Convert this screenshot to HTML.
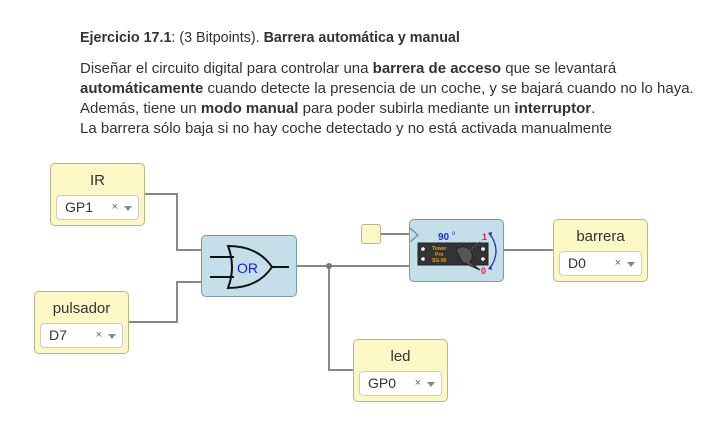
<!DOCTYPE html>
<html><head><meta charset="utf-8"><style>
body{margin:0;width:703px;height:440px;background:#fff;position:relative;overflow:hidden;font-family:"Liberation Sans",Arial,sans-serif;color:#333}
.t{position:absolute;left:80px;font-size:15px;white-space:nowrap;letter-spacing:0}
.box{position:absolute;background:#fbf8c6;border:1px solid #b9b58a;border-radius:5px;box-sizing:border-box;width:95px;height:63px}
.box .lbl{position:absolute;left:0;right:0;top:8px;text-align:center;font-size:15px;color:#333}
.sel{position:absolute;left:5px;right:5px;top:31px;height:25px;background:#fff;border:1px solid #ccc;border-radius:4px;box-sizing:border-box;font-size:14px;line-height:23px;padding-left:8px;color:#333}
.sel .x{position:absolute;right:20px;top:0;font-size:11px;color:#666}
.sel .a{position:absolute;right:6px;top:10px;width:0;height:0;border-left:4px solid transparent;border-right:4px solid transparent;border-top:5px solid #888}
.blue{position:absolute;background:#c4dfea;border:1px solid #7a9aab;border-radius:5px;box-sizing:border-box}
</style></head><body>
<div class="t" style="top:30px;font-size:14.3px"><b>Ejercicio 17.1</b>: (3 Bitpoints). <b>Barrera automática y manual</b></div>
<div class="t" style="top:60px">Diseñar el circuito digital para controlar una <b>barrera de acceso</b> que se levantará</div>
<div class="t" style="top:80px"><b>automáticamente</b> cuando detecte la presencia de un coche, y se bajará cuando no lo haya.</div>
<div class="t" style="top:100px">Además, tiene un <b>modo manual</b> para poder subirla mediante un <b>interruptor</b>.</div>
<div class="t" style="top:120px">La barrera sólo baja si no hay coche detectado y no está activada manualmente</div>

<svg style="position:absolute;left:0;top:0" width="703" height="440">
<g stroke="#888" stroke-width="2" fill="none">
<polyline points="144,194 177,194 177,250 201,250"/>
<polyline points="128,322 177,322 177,282 201,282"/>
<line x1="297" y1="266" x2="409" y2="266"/>
<polyline points="329,266 329,370 353,370"/>
<line x1="380" y1="234" x2="409" y2="234"/>
<line x1="504" y1="250" x2="553" y2="250"/>
</g>
<circle cx="329" cy="266" r="3" fill="#777"/>
</svg>

<div class="box" style="left:50px;top:163px"><div class="lbl">IR</div><div class="sel">GP1<span class="x">×</span><span class="a"></span></div></div>
<div class="box" style="left:34px;top:291px"><div class="lbl">pulsador</div><div class="sel">D7<span class="x">×</span><span class="a"></span></div></div>
<div class="box" style="left:553px;top:219px"><div class="lbl">barrera</div><div class="sel">D0<span class="x">×</span><span class="a"></span></div></div>
<div class="box" style="left:353px;top:339px"><div class="lbl">led</div><div class="sel">GP0<span class="x">×</span><span class="a"></span></div></div>
<div class="box" style="left:361px;top:224px;width:20px;height:20px;border-radius:3px"></div>

<div class="blue" style="left:201px;top:235px;width:96px;height:62px">
<svg width="96" height="62" style="position:absolute;left:0;top:0">
<g stroke="#111" stroke-width="2" fill="none">
<line x1="8" y1="21" x2="32" y2="21"/><line x1="8" y1="41" x2="32" y2="41"/>
<path d="M26,10 Q34,31 26,52 Q56,52 70,31 Q56,10 26,10 Z"/>
<line x1="70" y1="31" x2="87" y2="31"/>
</g>
<text x="35" y="37" font-family="Liberation Sans" font-size="14" fill="#1a1ae0">OR</text>
</svg></div>

<div class="blue" style="left:409px;top:219px;width:95px;height:63px">
<svg width="95" height="63" style="position:absolute;left:0;top:0">
<path d="M0,8 L8,15 L0,22" stroke="#7a9aab" stroke-width="1.5" fill="none"/>
<text x="28" y="20" font-family="Liberation Sans" font-size="10" font-weight="bold" fill="#2030c0">90</text>
<text x="42" y="15" font-family="Liberation Sans" font-size="6" fill="#2030c0">o</text>
<rect x="8" y="23" width="70" height="22" fill="#333" stroke="#222"/>
<circle cx="13" cy="29" r="1.8" fill="#fff"/><circle cx="13" cy="39" r="1.8" fill="#fff"/>
<circle cx="73" cy="29" r="1.8" fill="#fff"/><circle cx="73" cy="39" r="1.8" fill="#fff"/>
<text x="22" y="30" font-size="5" fill="#e8a020" font-family="Liberation Sans" font-weight="bold">Tower</text>
<text x="25" y="36" font-size="5" fill="#e8a020" font-family="Liberation Sans" font-weight="bold">Pro</text>
<text x="22" y="42" font-size="5" fill="#e8a020" font-family="Liberation Sans" font-weight="bold">SG-90</text>
<path d="M46,30 A8,8 0 1 1 60,42 L70,50 L52,42 Z" fill="#555" stroke="#222"/>
<line x1="60" y1="30" x2="72" y2="20" stroke="#888" stroke-dasharray="1,2"/>
<text x="72" y="20" font-size="9" font-weight="bold" fill="#e02040" font-family="Liberation Sans">1</text>
<text x="71" y="54" font-size="9" font-weight="bold" fill="#e02040" font-family="Liberation Sans">0</text>
<path d="M80,14 Q92,31 80,48" stroke="#2030c0" stroke-width="1.3" fill="none"/>
<path d="M78,13 L82,12 L81,17Z M78,49 L82,50 L81,45Z" fill="#2030c0"/>
</svg></div>
</body></html>
